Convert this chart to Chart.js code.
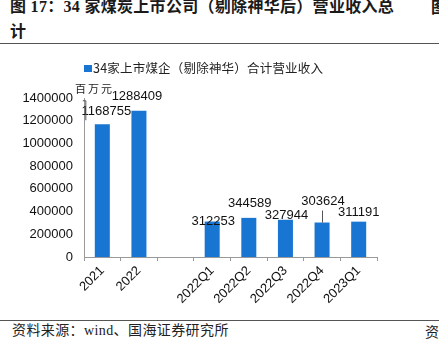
<!DOCTYPE html>
<html>
<head>
<meta charset="utf-8">
<script src="https://cdn.jsdelivr.net/npm/chart.js@4/dist/chart.umd.min.js"></script>
<style>
  body { margin: 0; width: 439px; height: 343px; background: #fff; position: relative; overflow: hidden; }
  .title { position: absolute; left: 10px; top: -6px; font: bold 16px/25px "Liberation Serif", "Noto Sans CJK SC", serif; letter-spacing: 0.3px; color: #1a1a1a; white-space: nowrap; }
  .cut { position: absolute; left: 431px; top: -6px; font: bold 16px/25px "Noto Sans CJK SC", serif; color: #1a1a1a; }
  .rule { position: absolute; left: 0; width: 439px; height: 1.5px; background: #555; }
  .source { position: absolute; left: 12px; top: 322px; font: 14px/18px "Liberation Serif", "Noto Sans CJK SC", serif; letter-spacing: 0.4px; color: #222; white-space: nowrap; }
  .source2 { position: absolute; left: 425px; top: 322px; font: 14px/18px "Noto Sans CJK SC", serif; color: #222; }
  #wrap { position: absolute; left: 0; top: 48px; width: 410px; height: 262px; }
</style>
</head>
<body>
<div class="title">图 17：34 家煤炭上市公司（剔除神华后）营业收入总<br>计</div>
<div class="cut">图</div>
<div class="rule" style="top:42.5px"></div>
<div id="wrap"><canvas id="revChart" width="410" height="262"></canvas></div>
<div class="rule" style="top:319.5px"></div>
<div class="source">资料来源：wind、国海证券研究所</div>
<div class="source2">资</div>

<script>
// categories and values (百万元)
var periods = ['2021', '2022', '', '2022Q1', '2022Q2', '2022Q3', '2022Q4', '2023Q1'];
var revenue = [1168755, 1288409, null, 312253, 344589, 327944, 303624, 311191];
var seriesName = '34家上市煤企（剔除神华）合计营业收入';
var unitLabel = '百万元';

var barColor = '#1876d2';
// label offsets from the top centre of each bar [dx, dy]
var labelOffsets = [[4, -13], [-2, -14], null, [1, 0], [1, -14], [1, -4], [1, -21], [0, -9]];

var extrasPlugin = {
  id: 'extras',
  afterDatasetsDraw: function(chart) {
    var ctx = chart.ctx;
    var meta = chart.getDatasetMeta(0);
    ctx.save();

    // legend
    ctx.fillStyle = barColor;
    ctx.fillRect(84, 17, 8, 7);
    ctx.fillStyle = '#222';
    ctx.font = '12.5px "Noto Sans CJK SC", sans-serif';
    ctx.letterSpacing = '0.2px';
    ctx.textAlign = 'left';
    ctx.textBaseline = 'middle';
    ctx.fillText(seriesName, 93, 20.5);

    // unit
    ctx.font = '11px "Noto Sans CJK SC", sans-serif';
    ctx.letterSpacing = '2px';
    ctx.fillText(unitLabel, 75, 41);
    ctx.letterSpacing = '0px';

    // value labels
    ctx.font = '13px "Liberation Sans", Arial, sans-serif';
    ctx.fillStyle = '#111';
    ctx.textAlign = 'center';
    meta.data.forEach(function(bar, i) {
      if (revenue[i] == null) return;
      var off = labelOffsets[i];
      ctx.fillText(String(revenue[i]), bar.x + off[0], bar.y + off[1]);
    });

    // leader lines
    ctx.strokeStyle = '#555';
    ctx.lineWidth = 1;
    var b0 = meta.data[0];
    ctx.beginPath();
    ctx.moveTo(b0.x - 19.5, b0.y - 23.5);
    ctx.lineTo(b0.x - 16.5, b0.y - 23.5);
    ctx.lineTo(b0.x - 16.5, b0.y - 4);
    ctx.stroke();
    var b6 = meta.data[6];
    ctx.beginPath();
    ctx.moveTo(Math.round(b6.x) + 0.5, b6.y - 12);
    ctx.lineTo(Math.round(b6.x) + 0.5, b6.y);
    ctx.stroke();

    ctx.restore();
  }
};

var revCtx = document.getElementById('revChart').getContext('2d');
new Chart(revCtx, {
  type: 'bar',
  data: {
    labels: periods,
    datasets: [{
      label: seriesName,
      data: revenue,
      backgroundColor: barColor,
      borderWidth: 0,
      categoryPercentage: 1,
      barPercentage: 0.41
    }]
  },
  options: {
    responsive: false,
    animation: false,
    layout: { padding: { top: 50, left: 0, right: 0, bottom: 0 } },
    plugins: { legend: { display: false }, tooltip: { enabled: false } },
    scales: {
      x: {
        grid: { drawOnChartArea: false, drawTicks: true, tickLength: 4, color: '#999' },
        border: { color: '#999', width: 1 },
        ticks: { color: '#111', font: { family: '"Liberation Sans", Arial, sans-serif', size: 13 }, minRotation: 45, maxRotation: 45, padding: 2, autoSkip: false },
        afterFit: function(s) { s.height = 53; }
      },
      y: {
        min: 0, max: 1400000,
        grid: { display: false, drawTicks: false },
        border: { color: '#999', width: 1 },
        ticks: {
          stepSize: 200000, color: '#111', padding: 11,
          font: { family: '"Liberation Sans", Arial, sans-serif', size: 13 },
          callback: function(v) { return String(v); }
        },
        afterFit: function(s) { s.width = 84; }
      },
      y2: {
        position: 'right',
        display: true,
        grid: { display: false, drawTicks: false },
        border: { display: false },
        ticks: { display: false },
        afterFit: function(s) { s.width = 33; }
      }
    }
  },
  plugins: [extrasPlugin]
});
</script>
</body>
</html>
